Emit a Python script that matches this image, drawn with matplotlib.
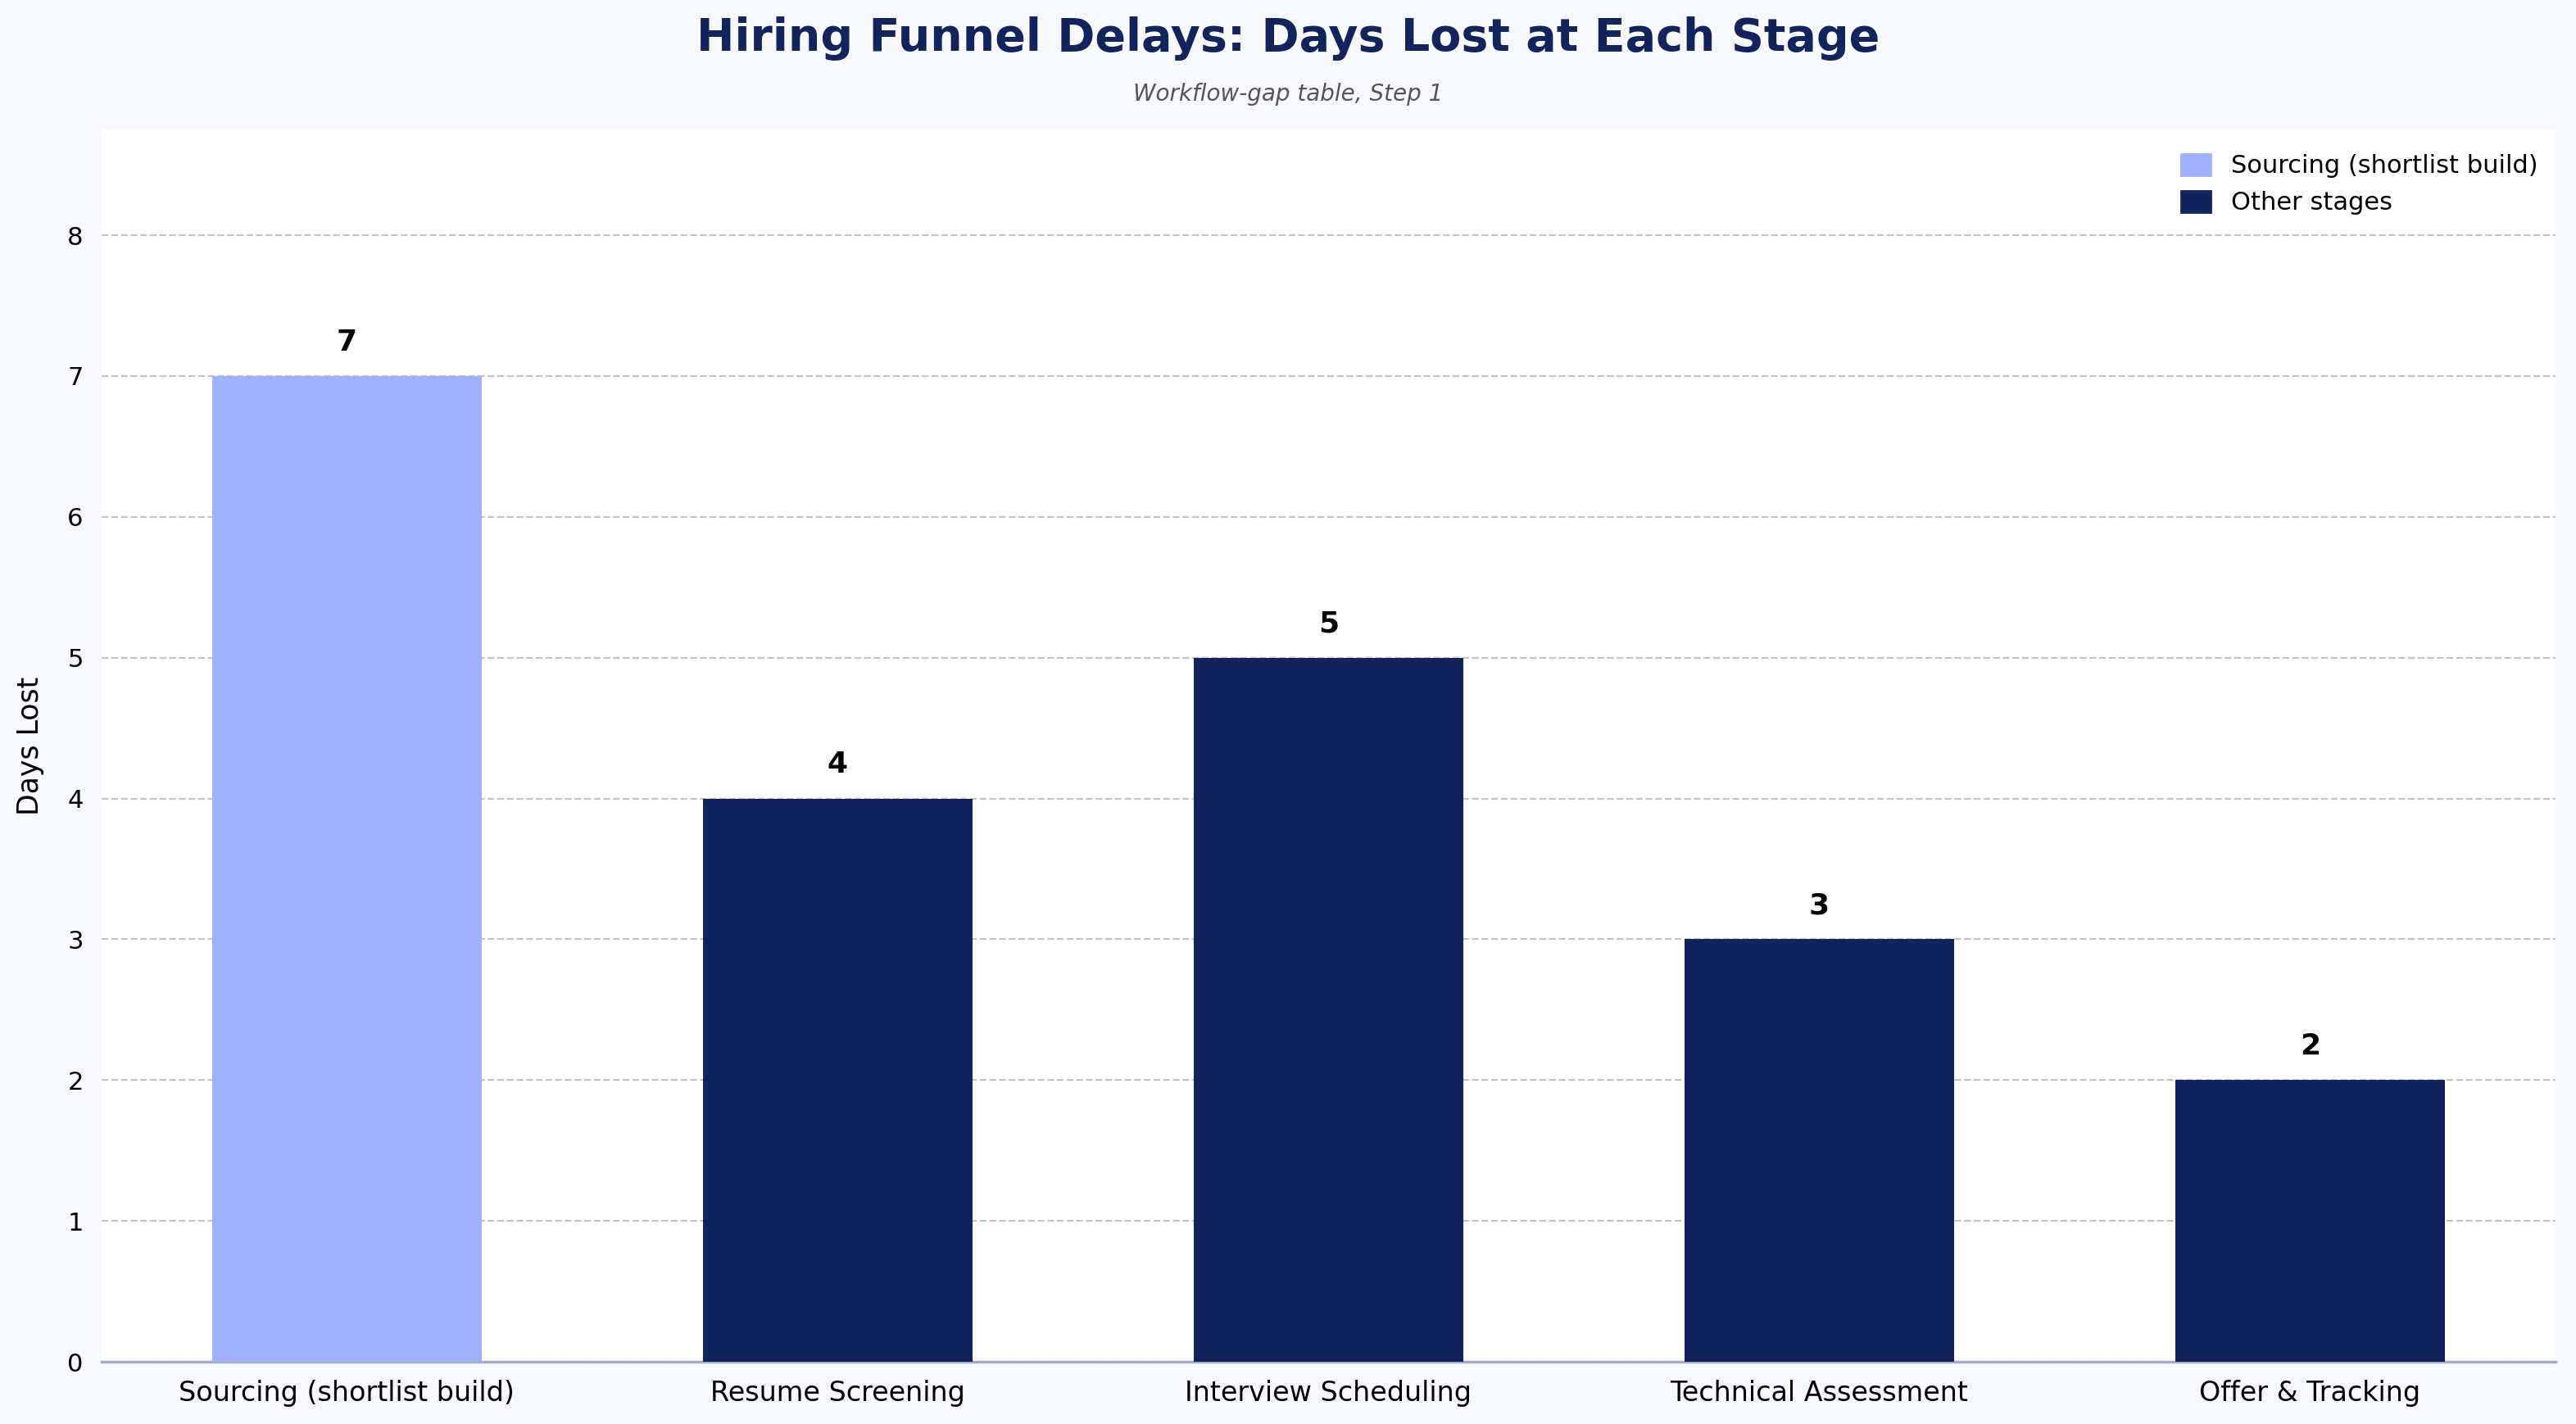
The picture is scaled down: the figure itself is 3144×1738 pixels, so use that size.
import matplotlib
matplotlib.use('Agg')
import matplotlib.pyplot as plt
import numpy as np
from matplotlib.patches import Patch

# Données
etapes = ['Sourcing (shortlist build)', 'Resume Screening', 'Interview Scheduling',
          'Technical Assessment', 'Offer & Tracking']
jours_perdus = [7, 4, 5, 3, 2]
etape_cle = 'Sourcing (shortlist build)'

couleur_cle = '#a0b0fc'
couleur_autres = '#13235b'

fig = plt.figure(figsize=(15.72, 8.69), dpi=200, facecolor='#f7f9fc')
ax = fig.add_axes([0.0394, 0.0437, 0.9526, 0.8653])
ax.set_facecolor('white')

x = np.arange(len(etapes))
couleurs = [couleur_cle if e == etape_cle else couleur_autres for e in etapes]
bars = ax.bar(x, jours_perdus, width=0.55, color=couleurs, zorder=3)

# Valeurs au-dessus des barres
for bar, v in zip(bars, jours_perdus):
    ax.text(bar.get_x() + bar.get_width() / 2, v + 0.14, f'{v}',
            ha='center', va='bottom', fontsize=13, fontweight='bold', color='black')

ax.set_xticks(x)
ax.set_xticklabels(etapes, fontsize=12)
ax.set_xlim(-0.5, 4.5)
ax.set_ylim(0, 8.75)
ax.set_yticks(range(0, 9))
ax.tick_params(axis='y', labelsize=11, length=0, pad=8)
ax.tick_params(axis='x', length=0, pad=8)
ax.set_ylabel('Days Lost', fontsize=12.5, labelpad=10)

ax.grid(axis='y', linestyle='--', color='#c4c4c4', linewidth=0.8, zorder=0)
for s in ['top', 'right', 'left']:
    ax.spines[s].set_visible(False)
ax.spines['bottom'].set_color('#a3aac4')
ax.spines['bottom'].set_linewidth(1.2)

handles = [Patch(color=couleur_cle, label='Sourcing (shortlist build)'),
           Patch(color=couleur_autres, label='Other stages')]
ax.legend(handles=handles, loc='upper right', frameon=False, fontsize=11,
          handlelength=1.2, handleheight=0.95, bbox_to_anchor=(1.002, 0.9986))

fig.text(0.5, 0.973, 'Hiring Funnel Delays: Days Lost at Each Stage',
         ha='center', va='center', fontsize=20, fontweight='bold', color='#13235b')
fig.text(0.5, 0.934, 'Workflow-gap table, Step 1', ha='center', va='center',
         fontsize=10, style='italic', color='#555555')

plt.savefig('out.png', dpi=200, facecolor=fig.get_facecolor())
